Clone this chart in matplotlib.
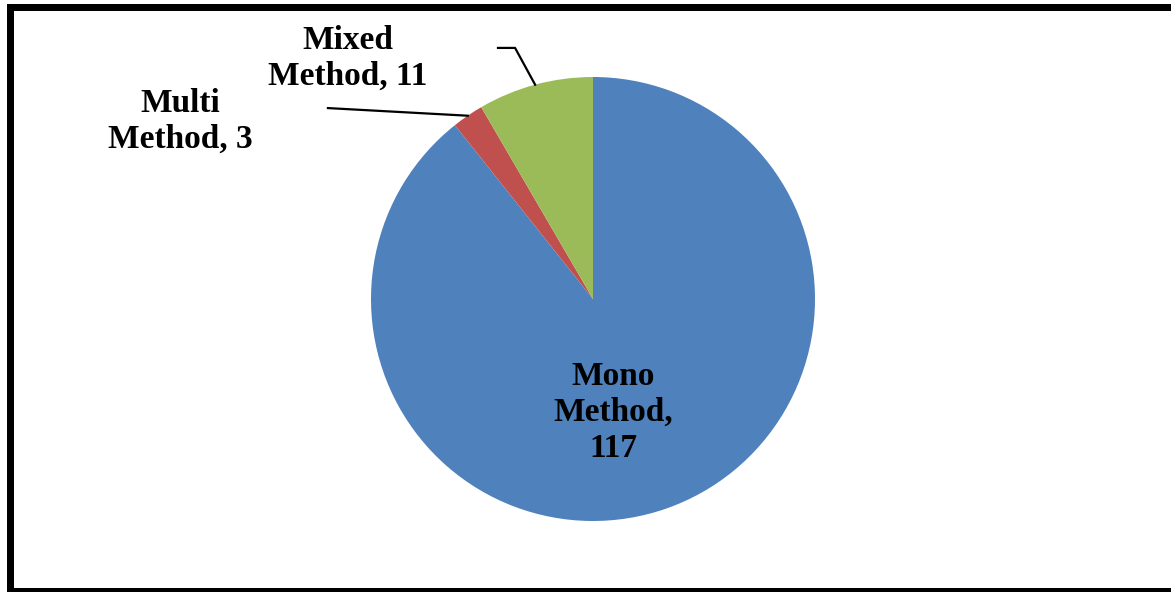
import matplotlib.pyplot as plt
import numpy as np
from matplotlib.patches import Rectangle

labels = ["Mono\nMethod,\n117", "Multi\nMethod, 3", "Mixed\nMethod, 11"]
counts = [117, 3, 11]
colors = ["#4F81BD", "#C0504D", "#9BBB59"]

W, H = 1171, 592
fig = plt.figure(figsize=(W / 100, H / 100), dpi=100)
fig.patch.set_facecolor("white")

# pie centre (593, 299) px, radius 222 px
cx, cy, r = 593, 299, 222
ax = fig.add_axes([(cx - r) / W, (H - cy - r) / H, 2 * r / W, 2 * r / H])
wedges, _ = ax.pie(counts, colors=colors, startangle=90, counterclock=False,
                   radius=1, wedgeprops=dict(linewidth=0))
ax.set_xlim(-1, 1)
ax.set_ylim(-1, 1)
ax.set_aspect("equal")
ax.axis("off")

font = dict(family="Liberation Serif", fontweight="bold", fontsize=24,
            ha="center", va="center", linespacing=1.2)

def mid(w):
    a = np.deg2rad((w.theta1 + w.theta2) / 2)
    return np.cos(a), np.sin(a)

# Mono label inside the slice
ax.text(0.09, -0.51, labels[0], **font)

# Multi label with leader line
mx, my = mid(wedges[1])
ax.plot([mx, -1.194], [my, 0.860], color="black", lw=1.6, clip_on=False)
ax.text(-1.86, 0.80, labels[1], **font)

# Mixed label with bent leader line
gx, gy = mid(wedges[2])
ax.plot([gx, -0.351, -0.428], [gy, 1.131, 1.131], color="black", lw=1.6,
        clip_on=False)
ax.text(-1.104, 1.086, labels[2], **font)

# chart frame (top, left, bottom)
for x0, y0, x1, y1 in [(7, 4, W, 11), (7, 4, 14, H), (7, 588, W, H)]:
    fig.add_artist(Rectangle((x0 / W, 1 - y1 / H), (x1 - x0) / W, (y1 - y0) / H,
                             transform=fig.transFigure, color="black", lw=0))

fig.savefig("out.png", dpi=100)
